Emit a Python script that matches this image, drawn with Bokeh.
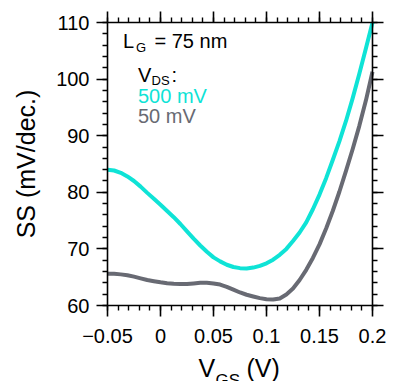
import math
from bokeh.plotting import figure
from bokeh.models import Range1d, FixedTicker, LinearAxis, Label
from bokeh.embed import file_html
from bokeh.resources import INLINE

# ---- data ----
vgs = [-0.05, -0.04375, -0.0375, -0.03125, -0.025, -0.01875, -0.0125, -0.00625,
       0.0, 0.00625, 0.0125, 0.01875, 0.025, 0.03125, 0.0375, 0.04375,
       0.05, 0.05625, 0.0625, 0.06875, 0.075, 0.08125, 0.0875, 0.09375,
       0.1, 0.10625, 0.1125, 0.11875, 0.125, 0.13125, 0.1375, 0.14375,
       0.15, 0.15625, 0.1625, 0.16875, 0.175, 0.18125, 0.1875, 0.19375, 0.2]
ss_500mV = [84.0, 83.85, 83.45, 82.8, 82.0, 81.0, 79.9, 78.85,
            77.8, 76.7, 75.6, 74.4, 73.1, 71.8, 70.6, 69.5,
            68.5, 67.8, 67.2, 66.8, 66.6, 66.55, 66.7, 67.0,
            67.45, 68.1, 68.95, 70.0, 71.4, 72.9, 74.7, 77.0,
            79.6, 82.5, 85.7, 89.0, 92.6, 96.6, 100.9, 105.4, 110.0]
ss_50mV = [65.6, 65.6, 65.5, 65.35, 65.1, 64.8, 64.5, 64.3,
           64.1, 63.95, 63.85, 63.8, 63.8, 63.9, 64.0, 64.0,
           63.9, 63.7, 63.3, 62.8, 62.3, 61.9, 61.6, 61.3,
           61.1, 61.05, 61.25, 61.95, 63.0, 64.5, 66.3, 68.4,
           70.8, 73.6, 76.7, 80.1, 83.8, 87.6, 91.7, 96.2, 101.3]

x_ticks = [-0.05, 0.0, 0.05, 0.1, 0.15, 0.2]
x_tick_labels = ["\u22120.05", "0", "0.05", "0.1", "0.15", "0.2"]
x_minor = [round(-0.05 + 0.01 * i, 4) for i in range(26)]
y_ticks = [60, 70, 80, 90, 100, 110]
y_tick_labels = ["60", "70", "80", "90", "100", "110"]
y_minor = [60 + 2 * i for i in range(26)]

CYAN = "#0fe3d6"
GRAY = "#686a73"
FONT = "Liberation Sans"

W, H = 396, 381
# pixel box of the data area in the reference
L, R, T, B = 107, 372, 22, 305
X0, X1, Y0, Y1 = -0.05, 0.2, 60.0, 110.0

def px2x(px):
    return X0 + (px - L) / (R - L) * (X1 - X0)

def py2y(py):
    return Y0 + (B - py) / (B - T) * (Y1 - Y0)

p = figure(width=W, height=H, output_backend="svg", toolbar_location=None,
           x_range=Range1d(px2x(0), px2x(W)), y_range=Range1d(py2y(H), py2y(0)),
           min_border_left=0, min_border_right=0,
           min_border_top=0, min_border_bottom=0,
           x_axis_type=None, y_axis_type=None)
p.outline_line_color = None
p.xgrid.visible = False
p.ygrid.visible = False
p.background_fill_color = "white"
p.border_fill_color = "white"

def make_axis(loc, fixed, bounds, ticks, minors, labels, show_labels, standoff=7):
    ax = LinearAxis(fixed_location=fixed, bounds=bounds)
    ax.ticker = FixedTicker(ticks=ticks, minor_ticks=minors)
    ax.axis_line_color = "black"
    ax.axis_line_width = 1.6
    ax.major_tick_line_width = 1.6
    ax.minor_tick_line_width = 1.4
    ax.major_tick_out = 11
    ax.major_tick_in = 0
    ax.minor_tick_out = 5
    ax.minor_tick_in = 0
    if show_labels:
        ax.major_label_overrides = {t: lab for t, lab in zip(ticks, labels)}
        ax.major_label_text_font = FONT
        ax.major_label_text_font_size = "20px"
        ax.major_label_text_color = "black"
        ax.major_label_standoff = standoff
    else:
        ax.major_label_text_color = None
        ax.major_label_text_alpha = 0
    p.add_layout(ax, loc)

make_axis("below", Y0, (X0, X1), x_ticks, x_minor, x_tick_labels, True, standoff=12)
make_axis("above", Y1, (X0, X1), x_ticks, x_minor, x_tick_labels, False)
make_axis("left", X0, (Y0, Y1), y_ticks, y_minor, y_tick_labels, True, standoff=7)
make_axis("right", X1, (Y0, Y1), y_ticks, y_minor, y_tick_labels, False)

p.line(vgs, ss_50mV, line_color=GRAY, line_width=4, line_join="round")
p.line(vgs, ss_500mV, line_color=CYAN, line_width=4, line_join="round")

SHIFT = 0.38  # empirical baseline correction, in units of font size

def lab(text, px, py, size, color="black", align="left"):
    p.add_layout(Label(x=px2x(px), y=py2y(py - SHIFT * size), text=text,
                       text_font=FONT, text_font_size=f"{size}px",
                       text_color=color, text_baseline="alphabetic",
                       text_align=align))

# annotation texts
lab("L", 122.5, 48, 20)
lab("G", 135.5, 52, 13)
lab("= 75 nm", 154, 48, 20)
lab("V", 137.5, 82, 20)
lab("DS", 151, 84.5, 13)
lab(":", 171, 82, 20)
lab("500 mV", 137.5, 103, 20, CYAN)
lab("50 mV", 137.5, 123, 20, GRAY)

# axis titles
ysz = 25
p.add_layout(Label(x=px2x(35 - SHIFT * ysz), y=py2y(163.5), text="SS (mV/dec.)",
                   text_font=FONT, text_font_size=f"{ysz}px", text_color="black",
                   text_baseline="alphabetic", text_align="center",
                   angle=math.pi / 2))
lab("V", 198, 377, 25)
lab("GS", 215, 386, 17)
lab("(V)", 246, 377, 25)

open("out.html", "w").write(file_html(p, INLINE))
